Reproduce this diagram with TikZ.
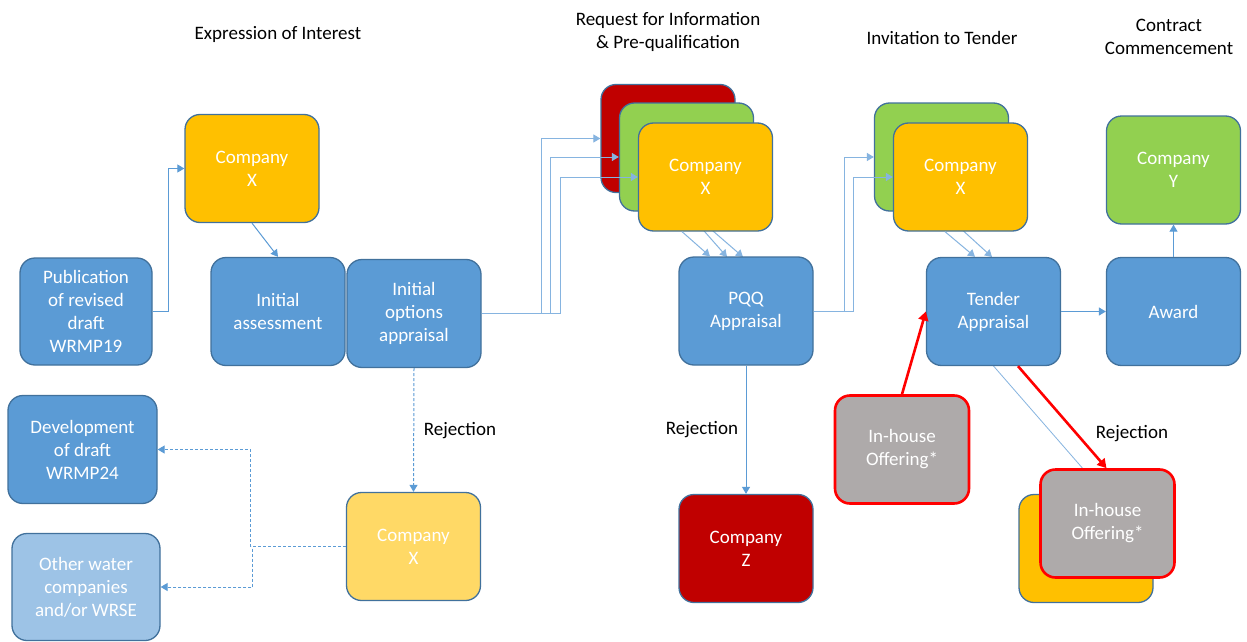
\documentclass[tikz,border=0pt]{standalone}
\usepackage{fontspec}
\setmainfont{Carlito}
\usetikzlibrary{arrows.meta}
\definecolor{bfill}{HTML}{5B9BD5}
\definecolor{bline}{HTML}{41719C}
\definecolor{cyel}{HTML}{FFC000}
\definecolor{cgrn}{HTML}{92D050}
\definecolor{cred}{HTML}{C00000}
\definecolor{lyel}{HTML}{FFD966}
\definecolor{lblu}{HTML}{9DC3E6}
\definecolor{cgry}{HTML}{AEAAAA}
\definecolor{conncol}{HTML}{5B9BD5}
\definecolor{connlight}{HTML}{86B4E0}
\tikzset{
  box/.style={draw=bline, line width=1.3pt, rounded corners=15pt, fill=bfill,
    minimum width=134pt, minimum height=108pt, inner sep=0pt, align=center,
    text=white, font=\fontsize{19}{23}\selectfont},
  redbox/.style={box, draw=red, line width=2.6pt, fill=cgry, text=white},
  conn/.style={draw=conncol, line width=1pt, -{Triangle[width=8pt,length=7pt]}},
  lconn/.style={conn, draw=connlight},
  dconn/.style={conn, dash pattern=on 3pt off 2pt},
  redarrow/.style={draw=red, line width=2.6pt, -{Triangle[width=10pt,length=9pt]}},
  title/.style={align=center, font=\fontsize{19}{23}\selectfont, text=black},
  lbl/.style={font=\fontsize{19}{23}\selectfont, text=black}
}
\begin{document}
\begin{tikzpicture}[x=1pt,y=-1pt]
\useasboundingbox[fill=white] (0,0) rectangle (1247,642);

% titles
\node[title] (t1) at (278,34) {Expression of Interest};
\node[title] (t2) at (668,32) {Request for Information\\\& Pre-qualification};
\node[title] (t3) at (942,38) {Invitation to Tender};
\node[title] (t4) at (1169,37) {Contract\\Commencement};

% hidden coordinates for connectors behind boxes
\coordinate (r1s) at (668,192);
\coordinate (g1s) at (686.5,211);
\coordinate (g2s) at (941.5,211);
\coordinate (pqqn) at (746,257);
\coordinate (tan) at (993.5,257);
\coordinate (tas) at (993.5,366);
\coordinate (ybn) at (1105,494);

% connectors behind the boxes
\draw[lconn] (r1s) -- ([xshift=-3]pqqn);
\draw[lconn] (g1s) -- ([xshift=-19]pqqn);
\draw[lconn] (g2s) -- ([xshift=-1.5]tan);
\draw[draw=connlight, line width=0.8pt] (tas) -- (ybn);

% boxes
\node[box] (pub) at (86,311.5) [minimum width=132pt, minimum height=107pt] {Publication\\of revised\\draft\\WRMP19};
\node[box, fill=cyel] (cx1) at (252,168.5) {Company\\X};
\node[box] (ia) at (278,311.5) {Initial\\assessment};
\node[box] (ioa) at (414,313.5) {Initial\\options\\appraisal};

\node[box, fill=cred] (r1) at (668,138.5) {};
\node[box, fill=cgrn] (g1) at (686.5,157) {};
\node[box, fill=cyel] (y1) at (705.5,177) {Company\\X};
\node[box] (pqq) at (746,311) {PQQ\\Appraisal};

\node[box, fill=cgrn] (g2) at (941.5,157) {};
\node[box, fill=cyel] (y2) at (960.5,177) {Company\\X};
\node[box] (ta) at (993.5,311.5) {Tender\\Appraisal};
\node[box] (aw) at (1173.5,311.5) {Award};
\node[box, fill=cgrn] (cy) at (1173.5,170) {Company\\Y};

\node[box] (dev) at (82.5,449.5) [minimum width=149pt] {Development\\of draft\\WRMP24};
\node[box, fill=lblu] (oth) at (86,587) [minimum width=148pt, minimum height=107pt] {Other water\\companies\\and/or WRSE};
\node[box, fill=lyel] (cx2) at (413.5,546.5) {Company\\X};
\node[box, fill=cred] (cz) at (746,548.5) {Company\\Z};

\node[redbox] (ih1) at (902,449.5) {In-house\\Offering*};
\node[box, fill=cyel] (yb) at (1086,548.5) {};
\node[redbox] (ih2) at (1107.5,523.5) {In-house\\Offering*};

% connectors
\draw[conn] (pub.east) -- ++(16,0) |- (cx1.west);
\draw[conn] (cx1.south) -- (ia.north);
\draw[lconn] (ioa.east) -- ++(60,0) |- (r1.west);
\draw[lconn] (ioa.east) -- ++(69,0) |- (g1.west);
\draw[lconn] (ioa.east) -- ++(79,0) |- (y1.west);
\draw[lconn] ([xshift=-23.5]y1.south) -- ([xshift=-36]pqq.north);

\draw[lconn] (pqq.east) -- ++(31,0) |- (g2.west);
\draw[lconn] (pqq.east) -- ++(40,0) |- (y2.west);
\draw[lconn] ([xshift=-15.5]y2.south) -- ([xshift=-18.5]ta.north);
\draw[conn] (ta.east) -- (aw.west);
\draw[conn] (aw.north) -- (cy.south);

\draw[dconn] (ioa.south) -- (cx2.north);
\node[lbl] (rej1) at (460,431) {Rejection};
\draw[dconn] (cx2.west) -- ++(-95,0) |- (dev.east);
\draw[dconn] (cx2.west) -- ++(-93,0) |- (oth.east);

\draw[conn] (pqq.south) -- (cz.north);
\node[lbl] (rej2) at (702,430) {Rejection};

\draw[redarrow] (ih1.north) -- (ta.west);
\draw[redarrow] ([xshift=24.5]ta.south) -- ([xshift=-1]ih2.north);
\node[lbl] (rej3) at (1132,434) {Rejection};
\end{tikzpicture}
\end{document}
